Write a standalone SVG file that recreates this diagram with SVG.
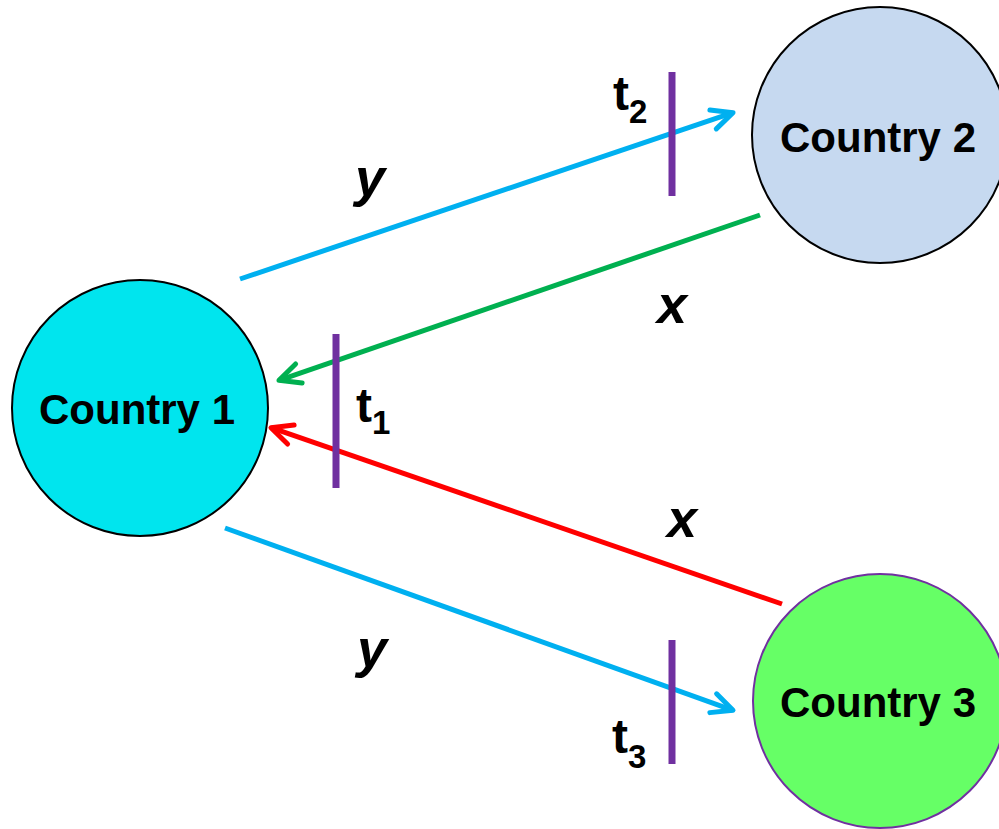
<svg xmlns="http://www.w3.org/2000/svg" width="999" height="829" viewBox="0 0 999 829">
<style>
.lbl{font-family:"Liberation Sans",Arial,sans-serif;font-weight:bold;fill:#000}
.node text{font-size:42px;text-anchor:middle}
.var{font-style:italic;font-size:54px}
.t{font-size:48px}
.sub{font-size:33px}
.conn{fill:none;stroke-width:5}
.bar{stroke:#7030A0;stroke-width:7}
</style>
<defs>
<marker id="ab" markerUnits="userSpaceOnUse" viewBox="-26 -15 30 30" refX="0" refY="0" markerWidth="30" markerHeight="30" orient="auto"><path d="M-21,-10 L0,0 L-21,10" fill="none" stroke="#00B0F0" stroke-width="5" stroke-linecap="round" stroke-linejoin="round"/></marker>
<marker id="ag" markerUnits="userSpaceOnUse" viewBox="-26 -15 30 30" refX="0" refY="0" markerWidth="30" markerHeight="30" orient="auto"><path d="M-21,-10 L0,0 L-21,10" fill="none" stroke="#00B050" stroke-width="5" stroke-linecap="round" stroke-linejoin="round"/></marker>
<marker id="ar" markerUnits="userSpaceOnUse" viewBox="-26 -15 30 30" refX="0" refY="0" markerWidth="30" markerHeight="30" orient="auto"><path d="M-21,-10 L0,0 L-21,10" fill="none" stroke="#FF0000" stroke-width="5" stroke-linecap="round" stroke-linejoin="round"/></marker>
</defs>
<rect width="999" height="829" fill="#fff"/>
<g id="country1" class="node">
<circle cx="140" cy="408" r="128" fill="#00E5EE" stroke="#000" stroke-width="2"/>
<text class="lbl" x="137" y="424">Country 1</text>
</g>
<g id="country2" class="node">
<circle cx="880" cy="135" r="128" fill="#C6D9F0" stroke="#000" stroke-width="2"/>
<text class="lbl" x="878" y="152">Country 2</text>
</g>
<g id="country3" class="node">
<circle cx="880" cy="701" r="127" fill="#66FF66" stroke="#7030A0" stroke-width="2"/>
<text class="lbl" x="878" y="717">Country 3</text>
</g>
<g id="connectors">
<line class="conn" stroke="#00B0F0" x1="240" y1="279" x2="733" y2="112.7" marker-end="url(#ab)"/>
<line class="conn" stroke="#00B050" x1="760" y1="215" x2="279" y2="380.3" marker-end="url(#ag)"/>
<line class="conn" stroke="#FF0000" x1="782" y1="604" x2="271" y2="427.7" marker-end="url(#ar)"/>
<line class="conn" stroke="#00B0F0" x1="225" y1="528" x2="733" y2="710.3" marker-end="url(#ab)"/>
</g>
<g id="thresholds">
<line class="bar" x1="672" y1="72" x2="672" y2="196"/>
<line class="bar" x1="336" y1="334" x2="336" y2="488"/>
<line class="bar" x1="672" y1="640" x2="672" y2="764"/>
</g>
<g id="labels">
<text class="lbl var" x="355" y="196">y</text>
<text class="lbl var" x="657" y="323">x</text>
<text class="lbl var" x="667" y="537">x</text>
<text class="lbl var" x="357" y="667">y</text>
<text class="lbl t" x="613" y="110">t<tspan class="sub" dy="13">2</tspan></text>
<text class="lbl t" x="356" y="422">t<tspan class="sub" dy="12">1</tspan></text>
<text class="lbl t" x="612" y="753">t<tspan class="sub" dy="15">3</tspan></text>
</g>
</svg>
